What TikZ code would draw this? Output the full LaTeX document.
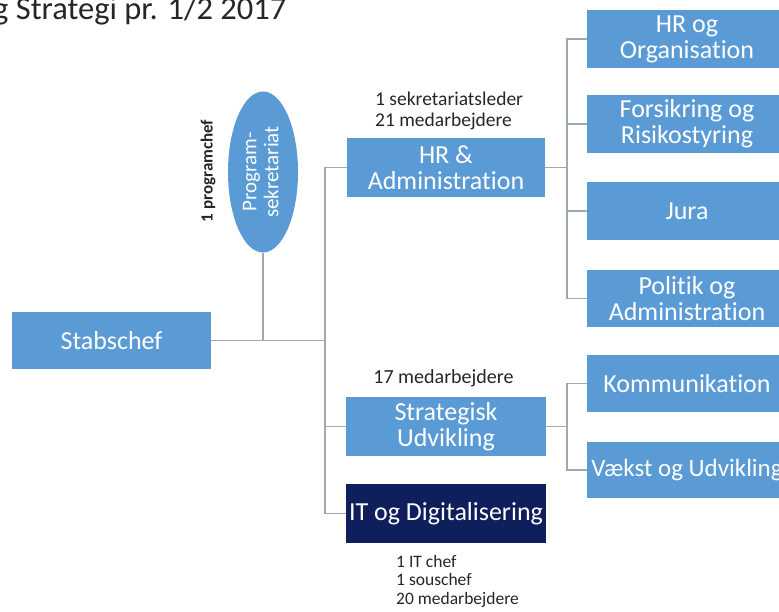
\documentclass[tikz,border=0pt]{standalone}
\usepackage{fontspec}
\setmainfont[Ligatures={NoCommon}]{Carlito}
\usepackage{graphicx}
\usetikzlibrary{shapes.geometric}

\definecolor{boxblue}{HTML}{5B9BD5}
\definecolor{navy}{HTML}{0E1F5C}
\definecolor{linegray}{HTML}{A0A8B2}
\definecolor{lbl}{HTML}{262626}

\tikzset{
  unit/.style={rectangle, fill=boxblue, text=white, align=center,
    minimum width=200pt, minimum height=58pt, inner xsep=0pt, inner ysep=2pt,
    font=\fontsize{26}{26}\selectfont},
  itunit/.style={unit, fill=navy},
  conn/.style={draw=linegray, line width=1.8pt},
  note/.style={text=lbl, align=left, inner sep=0pt}
}

\def\cX{446}
\def\rX{687}

\begin{document}
\begin{tikzpicture}[x=1pt, y=-1pt]
    \useasboundingbox (0,0) rectangle (779,612);
    \fill[white] (0,0) rectangle (779,612);

    %%   title (cut at the left edge)
    \node[anchor=base west, inner sep=0pt, text=lbl, font=\fontsize{32.5}{36}\selectfont]
      (title) at (-7,20) {g Strategi pr. 1/2 2017};

    %%   (lable)  (x, y)     {\text}
    \node[unit, minimum width=199pt, minimum height=57pt] (stab) at (111.5, 340.5) {Stabschef};
    \node[ellipse, fill=boxblue, text=white, minimum width=70pt, minimum height=161pt, inner sep=0pt,
      font=\fontsize{21}{22}\selectfont] (prog) at (263,172)
      {\rotatebox{90}{\begin{tabular}{@{}c@{}}Program-\\sekretariat\end{tabular}}};
    \node[note, font=\bfseries\fontsize{17}{19}\selectfont] (pchef) at (208,171)
      {\rotatebox{90}{1 programchef}};

    \node[unit, minimum width=198pt, minimum height=59pt] (hr) at (\cX,167.5) {HR \&\\Administration};
    \node[unit, minimum height=59pt] (strat) at (\cX,426.5) {Strategisk\\Udvikling};
    \node[itunit, minimum height=59pt] (it) at (\cX,513.5) {IT og Digitalisering};

    \node[unit] (hrorg) at (\rX, 39)    {HR og\\Organisation};
    \node[unit] (fors)  at (\rX,124)    {Forsikring og\\Risikostyring};
    \node[unit] (jura)  at (\rX,211)    {Jura};
    \node[unit, minimum height=57pt] (polit) at (\rX,298.5) {Politik og\\Administration};
    \node[unit, minimum height=57pt] (komm)  at (\rX,383.5) {Kommunikation};
    \node[unit, minimum height=56pt, font=\fontsize{25}{26}\selectfont] (vaekst) at (\rX,470) {Vækst og Udvikling};

    %%   head counts
    \node[note, anchor=north west, font=\fontsize{19.5}{20.5}\selectfont] (hrnote) at (375,92)
      {1 sekretariatsleder\\21 medarbejdere};
    \node[note, anchor=base, font=\fontsize{20}{20}\selectfont] (stratnote) at (443.5,383)
      {17 medarbejdere};
    \node[note, anchor=north west, font=\fontsize{17.5}{18.5}\selectfont] (itnote) at (396,555)
      {1 IT chef\\1 souschef\\20 medarbejdere};

    %%   busses
    \coordinate (bus1) at (325,340.5);
    \coordinate (bus2) at (567,167.5);
    \coordinate (bus3) at (567,426.5);

    \path[conn] (stab.east) -- (bus1);
    \path[conn] (prog.south) -- (prog.south |- stab.east);
    \path[conn] (hr.west) -| (bus1);
    \path[conn] (strat.west) -| (bus1);
    \path[conn] (it.west) -| (bus1);

    \path[conn] (hr.east) -- (bus2);
    \path[conn] (hrorg.west) -| (bus2);
    \path[conn] (fors.west) -| (bus2);
    \path[conn] (jura.west) -| (bus2);
    \path[conn] (polit.west) -| (bus2);

    \path[conn] (strat.east) -- (bus3);
    \path[conn] (komm.west) -| (bus3);
    \path[conn] (vaekst.west) -| (bus3);

  \end{tikzpicture}
\end{document}
